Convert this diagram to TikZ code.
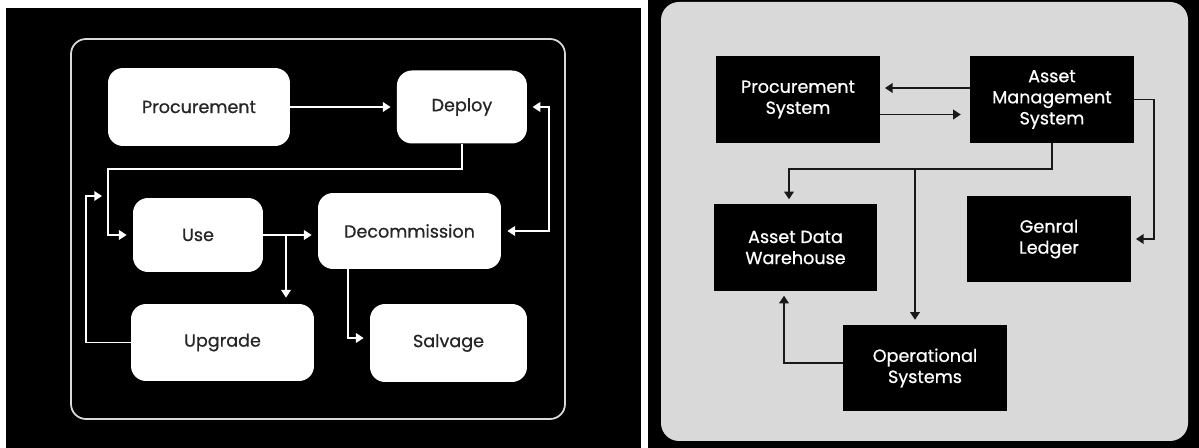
\documentclass[tikz,border=0pt]{standalone}
\usepackage{fontspec}
\setmainfont{Poppins}
\usetikzlibrary{arrows.meta,calc,positioning}
\definecolor{panelgray}{HTML}{D9D9D9}
\definecolor{inkgray}{HTML}{262626}

\begin{document}
\begin{tikzpicture}[
     x = 0.02cm, y = -0.02cm,
     >={Triangle[length=4.4pt,width=5.4pt]},
     lifebox/.style = {fill=white, rounded corners=0.3cm, text=inkgray,
                       font=\addfontfeature{FakeBold=0.7}\fontsize{10}{12}\selectfont},
     sysbox/.style = {fill=black, text=white, align=center,
                      minimum width=3.28cm, minimum height=1.73cm,
                      font=\addfontfeature{FakeBold=0.7}\fontsize{10}{12}\selectfont},
     lifeflow/.style = {->, white, line width=1pt, shorten >=3.4pt},
     sysflow/.style = {->, black!90, line width=1.1pt, shorten >=2.6pt},
    ]
    % panels
    \useasboundingbox (0,0) rectangle (1199,448);
    \fill[white] (0,0) rectangle (1199,448);
    \fill[black] (6,8) rectangle (641,448);
    \fill[black] (648,0) rectangle (1199,448);
    \draw[white!85!black, line width=1pt, rounded corners=0.3cm] (71,39) rectangle (565,419);
    \fill[panelgray, rounded corners=0.36cm] (661,2) rectangle (1188,441);

    % asset life cycle
    \node[lifebox, minimum width=3.64cm, minimum height=1.56cm] (proc) at (199,107) {Procurement};
    \node[lifebox, minimum width=2.6cm, minimum height=1.46cm,
          right of = proc, node distance = 5.26cm] (deploy) {Deploy};
    \node[lifebox, minimum width=2.6cm, minimum height=1.48cm] (use) at (198,235) {Use};
    \node[lifebox, minimum width=3.66cm, minimum height=1.52cm] (decom) at (409.5,231) {Decommission};
    \node[lifebox, minimum width=3.66cm, minimum height=1.54cm] (upgrade) at (222.5,342.5) {Upgrade};
    \node[lifebox, minimum width=3.14cm, minimum height=1.56cm] (salvage) at (448.5,343) {Salvage};

    \coordinate (du) at (108,169);
    \coordinate (ub) at (286,235);
    \coordinate (uu) at (86,196);
    \coordinate (dr) at (549,107);

    \draw[lifeflow] (proc.east) -- (proc.east -| deploy.west);
    \draw[lifeflow] (deploy.south) |- (du) |- (use.west);
    \draw[lifeflow] (use.east) -- (use.east -| decom.west);
    \draw[lifeflow] (ub) -- (ub |- upgrade.north);
    \draw[lifeflow] (upgrade.west) -| (uu) -- (uu -| du);
    \draw[lifeflow, <->, shorten <=3pt] (deploy.east) -- (dr) |- (decom.east);
    \draw[lifeflow] ([xshift=0.6cm]decom.south west) |- ([yshift=0.1cm]salvage.west);

    % systems
    \node[sysbox] (ps) at (798,99.5) {Procurement\\System};
    \node[sysbox, right of = ps, node distance = 5.08cm] (ams) {Asset\\Management\\System};
    \node[sysbox] (adw) at (795.5,247.5) {Asset Data\\Warehouse};
    \node[sysbox] (gl) at (1049,239) {Genral\\Ledger};
    \node[sysbox] (os) at (925,368) {Operational\\Systems};

    \coordinate (bus) at (915,169);
    \coordinate (glr) at (1154,99.5);

    \draw[sysflow] ($(ams.west)+(0,-11.5)$) -- ($(ps.east)+(0,-11.5)$);
    \draw[sysflow, shorten >=5pt] ($(ps.east)+(0,15)$) -- ($(ams.west)+(0,15)$);
    \draw[sysflow] (ams.south) |- (bus) -| ([xshift=-0.13cm]adw.north);
    \draw[sysflow] (bus) -- (bus |- os.north);
    \draw[sysflow] (ams.east) -- (glr) |- (gl.east);
    \draw[sysflow] ([yshift=0.1cm]os.west) -| ([xshift=-0.23cm]adw.south);

   \end{tikzpicture}
\end{document}
